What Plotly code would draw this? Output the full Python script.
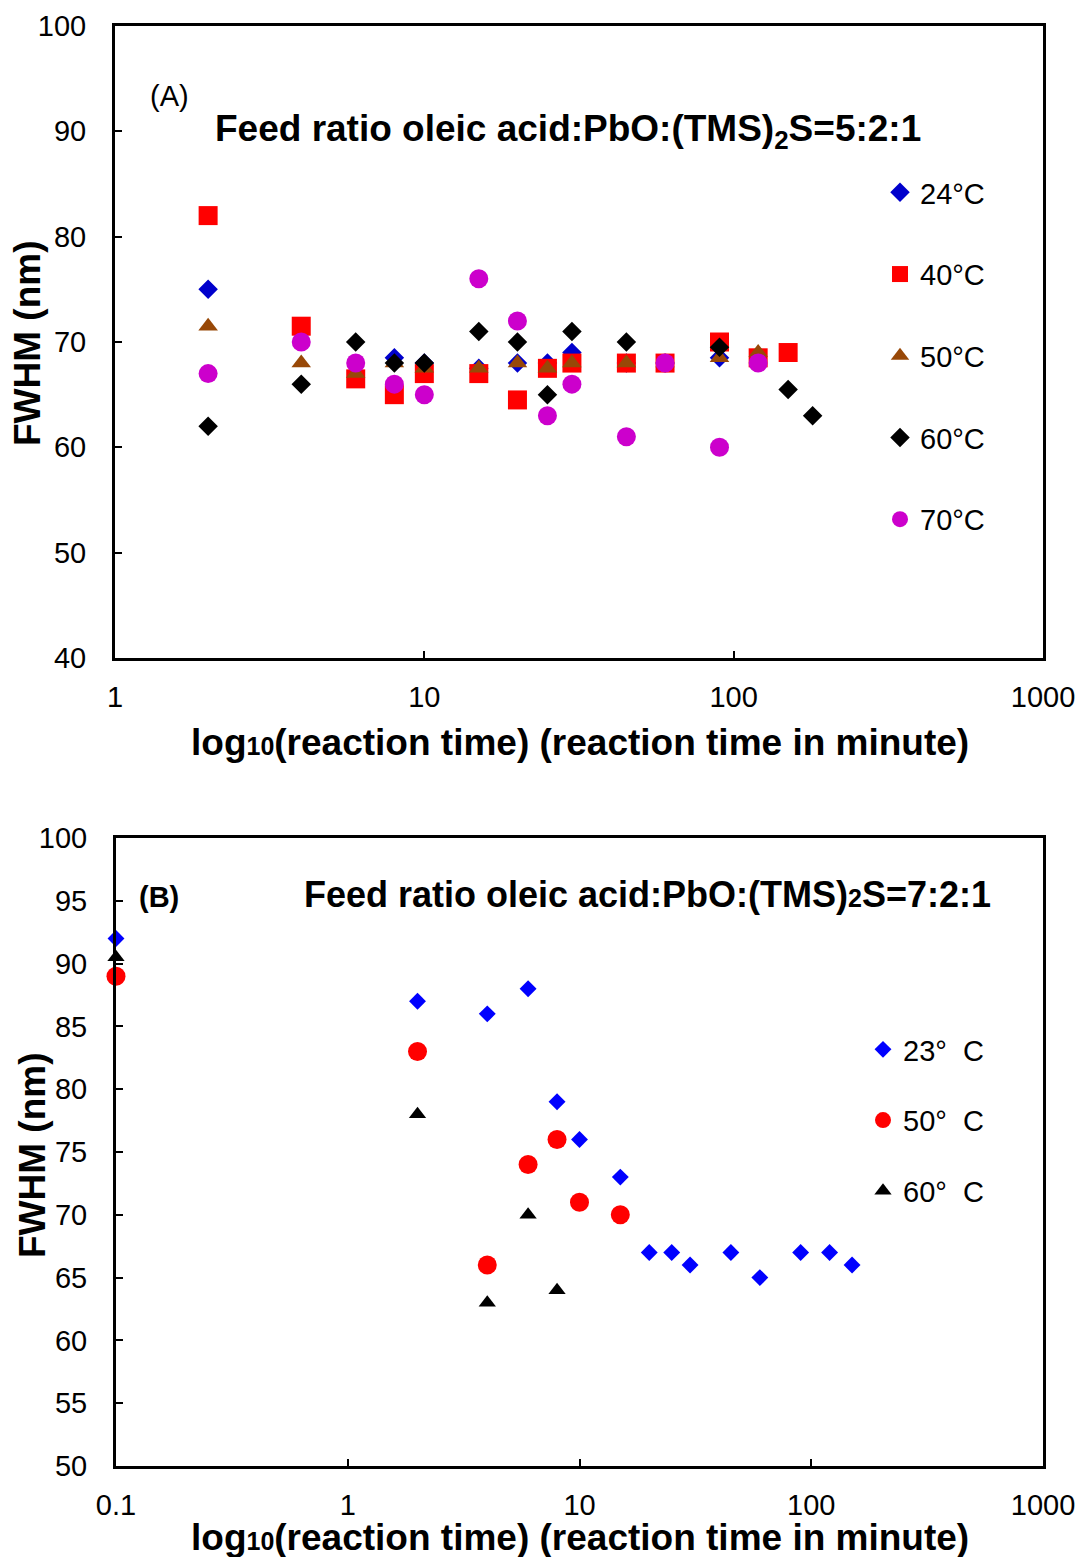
import plotly.graph_objects as go

# ---------------- Panel A data (feed ratio 5:2:1) ----------------
a_t24 = [2, 8, 10, 15, 20, 25, 30, 45, 60, 90]
a_f24 = [75, 68.5, 68, 67.5, 68, 68, 69, 68, 68, 68.5]
a_t40 = [2, 4, 6, 8, 10, 15, 20, 25, 30, 45, 60, 90, 120, 150]
a_f40 = [82, 71.5, 66.5, 65, 67, 67, 64.5, 67.5, 68, 68, 68, 70, 68.5, 69]
a_t50 = [2, 4, 6, 8, 10, 15, 20, 25, 30, 45, 60, 90, 120]
a_f50 = [71.5, 68, 67, 68, 67.5, 67.5, 68, 67.5, 68, 68, 68, 68.5, 69]
a_t60 = [2, 4, 6, 8, 10, 15, 20, 25, 30, 45, 90, 150, 180]
a_f60 = [62, 66, 70, 68, 68, 71, 70, 65, 71, 70, 69.5, 65.5, 63]
a_t70 = [2, 4, 6, 8, 10, 15, 20, 25, 30, 45, 60, 90, 120]
a_f70 = [67, 70, 68, 66, 65, 76, 72, 63, 66, 61, 68, 60, 68]

# ---------------- Panel B data (feed ratio 7:2:1) ----------------
b_t23 = [0.1, 2, 4, 6, 8, 10, 15, 20, 25, 30, 45, 60, 90, 120, 150]
b_f23 = [92, 87, 86, 88, 79, 76, 73, 67, 67, 66, 67, 65, 67, 67, 66]
b_t50 = [0.1, 2, 4, 6, 8, 10, 15]
b_f50 = [89, 83, 66, 74, 76, 71, 70]
b_t60 = [0.1, 2, 4, 6, 8]
b_f60 = [90.5, 78, 63, 70, 64]

# tick labels
a_xticks = [1, 10, 100, 1000]
a_xticktext = ["1", "10", "100", "1000"]
a_yticks = [40, 50, 60, 70, 80, 90, 100]
b_xticks = [0.1, 1, 10, 100, 1000]
b_xticktext = ["0.1", "1", "10", "100", "1000"]
b_yticks = [50, 55, 60, 65, 70, 75, 80, 85, 90, 95, 100]

W, H = 1083, 1557
FONT = "Liberation Sans, Arial, sans-serif"


def px(x):
    return x / W


def py(y):
    return 1 - y / H


fig = go.Figure()

series_a = [
    (a_t24, a_f24, "24°C", "diamond", "#0000CC", 15),
    (a_t40, a_f40, "40°C", "square", "#FF0000", 19),
    (a_t50, a_f50, "50°C", "triangle-up", "#984807", 17),
    (a_t60, a_f60, "60°C", "diamond", "#000000", 15),
    (a_t70, a_f70, "70°C", "circle", "#CC00CC", 19),
]
for t, f, name, sym, col, sz in series_a:
    fig.add_trace(go.Scatter(
        x=t, y=f, mode="markers", name=name, xaxis="x", yaxis="y",
        marker=dict(symbol=sym, color=col, size=sz, line=dict(width=0)),
        cliponaxis=False, legend="legend", legendgroup=name,
    ))

nb = "\u00b0\u00a0\u00a0C"
series_b = [
    (b_t23, b_f23, "23" + nb, "diamond", "#0000FF", 13),
    (b_t50, b_f50, "50" + nb, "circle", "#FF0000", 19),
    (b_t60, b_f60, "60" + nb, "triangle-up", "#000000", 15),
]
for t, f, name, sym, col, sz in series_b:
    fig.add_trace(go.Scatter(
        x=t, y=f, mode="markers", name=name, xaxis="x2", yaxis="y2",
        marker=dict(symbol=sym, color=col, size=sz, line=dict(width=0)),
        cliponaxis=False, legend="legend2", legendgroup=name,
    ))

axis_common = dict(
    showline=True, linewidth=3, linecolor="black", mirror=True,
    ticks="inside", ticklen=7, tickwidth=2, tickcolor="black",
    showgrid=False, zeroline=False, automargin=False,
    tickfont=dict(family=FONT, size=29, color="black"),
)

fig.update_layout(
    width=W, height=H,
    margin=dict(l=0, r=0, t=0, b=0, autoexpand=False),
    paper_bgcolor="white", plot_bgcolor="white",
    showlegend=True,
    xaxis=dict(type="log", range=[0, 3], domain=[px(115), px(1043)],
               anchor="y", tickvals=a_xticks, ticktext=a_xticktext,
               ticklabelstandoff=11, **axis_common),
    yaxis=dict(range=[40, 100], domain=[py(658), py(26)], anchor="x",
               tickvals=a_yticks, ticklabelstandoff=20, **axis_common),
    xaxis2=dict(type="log", range=[-1, 3], domain=[px(116), px(1043)],
                anchor="y2", tickvals=b_xticks, ticktext=b_xticktext,
                ticklabelstandoff=11, **axis_common),
    yaxis2=dict(range=[50, 100], domain=[py(1466), py(838)], anchor="x2",
                tickvals=b_yticks, ticklabelstandoff=20, **axis_common),
    legend=dict(x=px(880), y=py(167), xanchor="left", yanchor="top",
                font=dict(family=FONT, size=29, color="black"),
                tracegroupgap=41, bgcolor="rgba(0,0,0,0)", itemsizing="trace"),
    legend2=dict(x=px(863), y=py(1024), xanchor="left", yanchor="top",
                 font=dict(family=FONT, size=29, color="black"),
                 tracegroupgap=30, bgcolor="rgba(0,0,0,0)", itemsizing="trace"),
)

ann = []
ann.append(dict(x=px(169), y=py(96), text="(A)", showarrow=False,
                font=dict(family=FONT, size=29, color="black")))
ann.append(dict(x=px(568), y=py(131),
                text="<b>Feed ratio oleic acid:PbO:(TMS)<sub>2</sub>S=5:2:1</b>",
                showarrow=False, font=dict(family=FONT, size=37, color="black")))
ann.append(dict(x=px(159), y=py(897), text="<b>(B)</b>", showarrow=False,
                font=dict(family=FONT, size=29, color="black")))
ann.append(dict(x=px(647), y=py(894),
                text="<b>Feed ratio oleic acid:PbO:(TMS)<span style='font-size:25px'>2</span>S=7:2:1</b>",
                showarrow=False, font=dict(family=FONT, size=36, color="black")))
xt = "<b>log<span style='font-size:25px'>10</span>(reaction time) (reaction time in minute)</b>"
ann.append(dict(x=px(580), y=py(742), text=xt, showarrow=False,
                font=dict(family=FONT, size=37, color="black")))
ann.append(dict(x=px(580), y=py(1537), text=xt, showarrow=False,
                font=dict(family=FONT, size=37, color="black")))
ann.append(dict(x=px(28), y=py(343), text="<b>FWHM (nm)</b>", textangle=-90,
                showarrow=False, font=dict(family=FONT, size=37, color="black")))
ann.append(dict(x=px(32), y=py(1155), text="<b>FWHM (nm)</b>", textangle=-90,
                showarrow=False, font=dict(family=FONT, size=37, color="black")))
for a in ann:
    a.update(xref="paper", yref="paper", xanchor="center", yanchor="middle")
fig.update_layout(annotations=ann)

fig.write_html(
    "out.html",
    config={"displayModeBar": False},
    post_script="document.body.style.margin='0px';document.body.style.padding='0px';",
)
